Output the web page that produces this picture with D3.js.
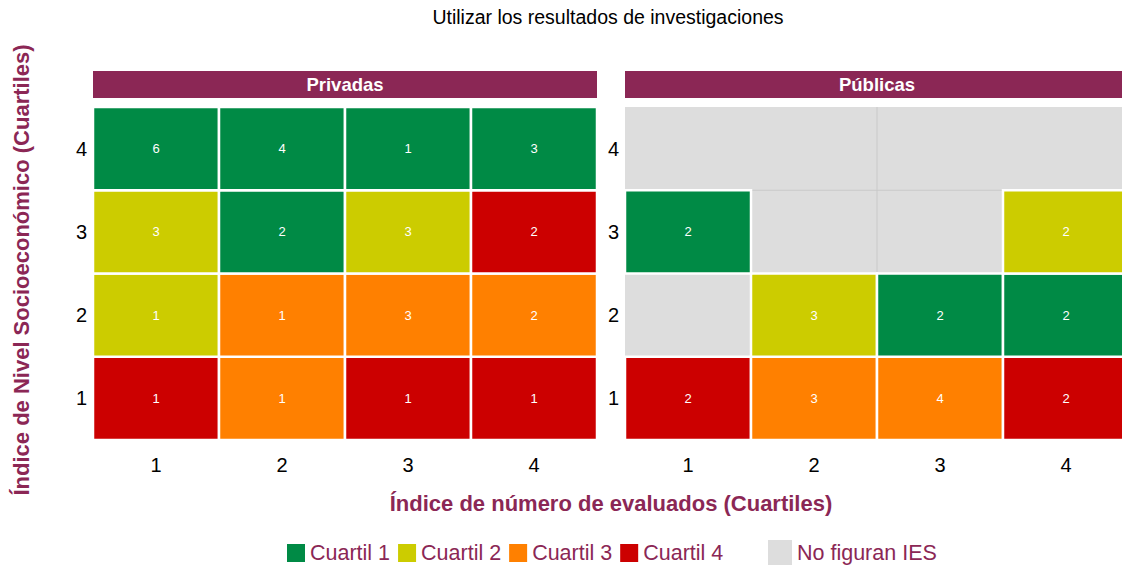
<!DOCTYPE html>
<html>
<head>
<meta charset="utf-8">
<script src="https://cdn.jsdelivr.net/npm/d3@7"></script>
<style>
  html, body { margin: 0; padding: 0; background: #ffffff; }
  svg { display: block; font-family: "Liberation Sans", Arial, sans-serif; }
</style>
</head>
<body>
<svg id="chart" width="1122" height="565"></svg>
<script>
// ---------------- DATA ----------------
const chartTitle = "Utilizar los resultados de investigaciones";
const sectors = ["Privadas", "Públicas"];
const xCategories = ["1", "2", "3", "4"];   // Índice de número de evaluados
const yCategories = ["1", "2", "3", "4"];   // Índice de Nivel Socioeconómico
const quartileLabels = ["Cuartil 1", "Cuartil 2", "Cuartil 3", "Cuartil 4"];
const missingLabel = "No figuran IES";

// rows: yCategory "1" .. "4"; columns: xCategory "1" .. "4"; null = no IES
const privadasCounts = [
  [1, 1, 1, 1],
  [1, 1, 3, 2],
  [3, 2, 3, 2],
  [6, 4, 1, 3]
];
const privadasQuartile = [
  [4, 3, 4, 4],
  [2, 3, 3, 3],
  [2, 1, 2, 4],
  [1, 1, 1, 1]
];
const publicasCounts = [
  [2, 3, 4, 2],
  [null, 3, 2, 2],
  [2, null, null, 2],
  [null, null, null, null]
];
const publicasQuartile = [
  [4, 3, 3, 4],
  [null, 2, 1, 1],
  [1, null, null, 2],
  [null, null, null, null]
];

// ---------------- STYLE ----------------
const quartileColors = ["#008A45", "#CCCC00", "#FF8000", "#CC0000"];
const missingColor = "#DDDDDD";
const gridColor = "#C9C9C9";
const accent = "#8B2755";

const svg = d3.select("#chart");

const panelTop = 107, panelBottom = 440;
const panelWidth = 504;
const panelLefts = [93, 625];

const y = d3.scaleBand().domain(yCategories).range([panelBottom, panelTop]).padding(0);

// Title
svg.append("text")
  .attr("x", 608).attr("y", 24)
  .attr("text-anchor", "middle")
  .attr("font-size", 19.5)
  .attr("fill", "#000")
  .text(chartTitle);

const datasets = [
  { counts: privadasCounts, quart: privadasQuartile },
  { counts: publicasCounts, quart: publicasQuartile }
];

sectors.forEach((sector, si) => {
  const left = panelLefts[si];
  const x = d3.scaleBand().domain(xCategories).range([left, left + panelWidth]).padding(0);
  const g = svg.append("g");

  // strip
  g.append("rect")
    .attr("x", left).attr("y", 71)
    .attr("width", panelWidth).attr("height", 27)
    .attr("fill", accent);
  g.append("text")
    .attr("x", left + panelWidth / 2).attr("y", 91)
    .attr("text-anchor", "middle")
    .attr("font-size", 18.5).attr("font-weight", "bold")
    .attr("fill", "#fff")
    .text(sector);

  // panel background (cells without IES)
  g.append("rect")
    .attr("x", left).attr("y", panelTop)
    .attr("width", panelWidth).attr("height", panelBottom - panelTop)
    .attr("fill", missingColor);

  // faint grid lines
  const gx = x("3");
  g.append("line")
    .attr("x1", gx).attr("x2", gx)
    .attr("y1", panelTop).attr("y2", panelBottom)
    .attr("stroke", gridColor).attr("stroke-width", 1);
  const gy = y("3");
  g.append("line")
    .attr("x1", left).attr("x2", left + panelWidth)
    .attr("y1", gy).attr("y2", gy)
    .attr("stroke", gridColor).attr("stroke-width", 1);

  // tiles
  const cells = [];
  yCategories.forEach((yc, r) => {
    xCategories.forEach((xc, c) => {
      const v = datasets[si].counts[r][c];
      if (v !== null) cells.push({ xc, yc, v, q: datasets[si].quart[r][c] });
    });
  });

  g.selectAll("rect.tile").data(cells).enter().append("rect")
    .attr("class", "tile")
    .attr("x", d => x(d.xc))
    .attr("y", d => y(d.yc))
    .attr("width", x.bandwidth())
    .attr("height", y.bandwidth())
    .attr("fill", d => quartileColors[d.q - 1])
    .attr("stroke", "#fff")
    .attr("stroke-width", 2.5);

  g.selectAll("text.lbl").data(cells).enter().append("text")
    .attr("class", "lbl")
    .attr("x", d => x(d.xc) + x.bandwidth() / 2)
    .attr("y", d => y(d.yc) + y.bandwidth() / 2 + 4.5)
    .attr("text-anchor", "middle")
    .attr("font-size", 13)
    .attr("fill", "#fff")
    .text(d => d.v);

  // y axis ticks
  g.selectAll("text.ytick").data(yCategories).enter().append("text")
    .attr("class", "ytick")
    .attr("x", left - 6)
    .attr("y", d => y(d) + y.bandwidth() / 2 + 7)
    .attr("text-anchor", "end")
    .attr("font-size", 20)
    .attr("fill", "#000")
    .text(d => d);

  // x axis ticks
  g.selectAll("text.xtick").data(xCategories).enter().append("text")
    .attr("class", "xtick")
    .attr("x", d => x(d) + x.bandwidth() / 2)
    .attr("y", 472)
    .attr("text-anchor", "middle")
    .attr("font-size", 20)
    .attr("fill", "#000")
    .text(d => d);
});

// axis titles
svg.append("text")
  .attr("x", 611).attr("y", 511)
  .attr("text-anchor", "middle")
  .attr("font-size", 22).attr("font-weight", "bold")
  .attr("fill", accent)
  .text("Índice de número de evaluados (Cuartiles)");

svg.append("text")
  .attr("transform", "translate(29,270) rotate(-90)")
  .attr("text-anchor", "middle")
  .attr("font-size", 22).attr("font-weight", "bold")
  .attr("fill", accent)
  .text("Índice de Nivel Socioeconómico (Cuartiles)");

// legend
const legend = svg.append("g");
let lx = 287;
quartileLabels.forEach((lab, i) => {
  legend.append("rect")
    .attr("x", lx).attr("y", 544)
    .attr("width", 18).attr("height", 18)
    .attr("fill", quartileColors[i]);
  const t = legend.append("text")
    .attr("x", lx + 23).attr("y", 560)
    .attr("font-size", 21.5)
    .attr("fill", accent)
    .text(lab);
  lx = lx + 23 + t.node().getComputedTextLength() + 8;
});
legend.append("rect")
  .attr("x", 768).attr("y", 540)
  .attr("width", 24).attr("height", 25)
  .attr("fill", missingColor);
legend.append("text")
  .attr("x", 797).attr("y", 560)
  .attr("font-size", 21.5)
  .attr("fill", accent)
  .text(missingLabel);
</script>
</body>
</html>
